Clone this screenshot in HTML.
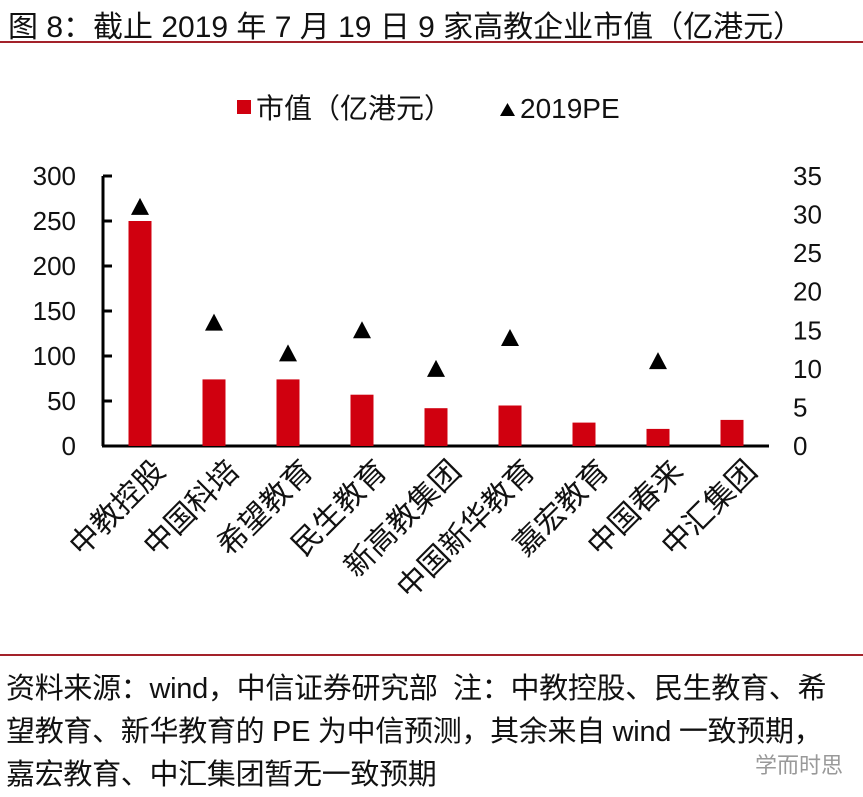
<!DOCTYPE html>
<html><head><meta charset="utf-8"><style>
body{margin:0;width:863px;height:794px;background:#fff;overflow:hidden;font-family:"Liberation Sans","Noto Sans CJK SC",sans-serif;}
.t{position:absolute;left:8px;top:2px;font-size:30px;color:#111;white-space:nowrap}
.line{position:absolute;left:0;width:863px;height:2px;background:#a3222a}
.foot{position:absolute;left:6px;top:668px;font-size:29px;line-height:43px;color:#111;white-space:nowrap;letter-spacing:-0.3px}
</style></head><body>
<div class="t">图 8：截止 2019 年 7 月 19 日 9 家高教企业市值（亿港元）</div>
<div class="line" style="top:41px"></div>
<svg id="c" width="863" height="650" style="position:absolute;left:0;top:0"></svg>
<div class="line" style="top:654px"></div>
<div class="foot">资料来源：wind，中信证券研究部&nbsp; 注：中教控股、民生教育、希<br>望教育、新华教育的 PE 为中信预测，其余来自 wind 一致预期，<br>嘉宏教育、中汇集团暂无一致预期</div>
<div style="position:absolute;left:755px;top:748px;font-size:22px;color:#999">学而时思</div>
<script>
const categories=["中教控股","中国科培","希望教育","民生教育","新高教集团","中国新华教育","嘉宏教育","中国春来","中汇集团"];
const marketCap=[250,74,74,57,42,45,26,19,29];
const pe=[31,16,12,15,10,14,null,11,null];
const leftTicks=[0,50,100,150,200,250,300];
const rightTicks=[0,5,10,15,20,25,30,35];
const NS="http://www.w3.org/2000/svg";
const svg=document.getElementById('c');
const X0=103,X1=769,Y0=446,Y1=176,step=(X1-X0)/categories.length;
const yL=v=>Y0-(v/300)*(Y0-Y1), yR=v=>Y0-(v/35)*(Y0-Y1), xc=i=>X0+step*(i+0.5);
function mk(tag,a,txt){const e=document.createElementNS(NS,tag);for(const k in a)e.setAttribute(k,a[k]);if(txt!=null)e.textContent=txt;svg.appendChild(e);return e;}
let e;
e=mk('line',{x1:X0,y1:Y1,x2:X0,y2:Y0,stroke:'#000','stroke-width':3});

e=mk('line',{x1:X0-1,y1:Y0,x2:X1,y2:Y0,stroke:'#000','stroke-width':3});

leftTicks.forEach(v=>{
 e=mk('line',{x1:X0,y1:yL(v),x2:X0+9,y2:yL(v),stroke:'#000','stroke-width':3});
 
 e=mk('text',{x:76,y:yL(v)+9,'text-anchor':'end','font-size':26,fill:'#111'},v);
 
});
rightTicks.forEach(v=>{
 e=mk('text',{x:793,y:yR(v)+9,'font-size':26,fill:'#111'},v);
 
});
marketCap.forEach((v,i)=>{
 e=mk('rect',{x:xc(i)-11.5,y:yL(v),width:23,height:Y0-yL(v),fill:'#d0000f'});
 
});
pe.forEach((v,i)=>{
 if(v==null)return;const x=xc(i),y=yR(v);
 e=mk('polygon',{points:`${x-9},${y+8} ${x+9},${y+8} ${x},${y-9}`,fill:'#000'});
 
});
categories.forEach((c,i)=>{
 const x=xc(i)+12,y=458;
 e=mk('text',{x:x,y:y,'text-anchor':'end','font-size':30,fill:'#111',transform:`rotate(-45 ${x} ${y})`,'dominant-baseline':'hanging'},c);
 
});
e=mk('rect',{x:237,y:100,width:14,height:14,fill:'#d0000f'});

e=mk('text',{x:256,y:118,'font-size':28,fill:'#111'},'市值（亿港元）');

e=mk('polygon',{points:'500,116 515,116 507.5,103',fill:'#000'});

e=mk('text',{x:520,y:118,'font-size':28,fill:'#111'},'2019PE');

</script>
</body></html>
